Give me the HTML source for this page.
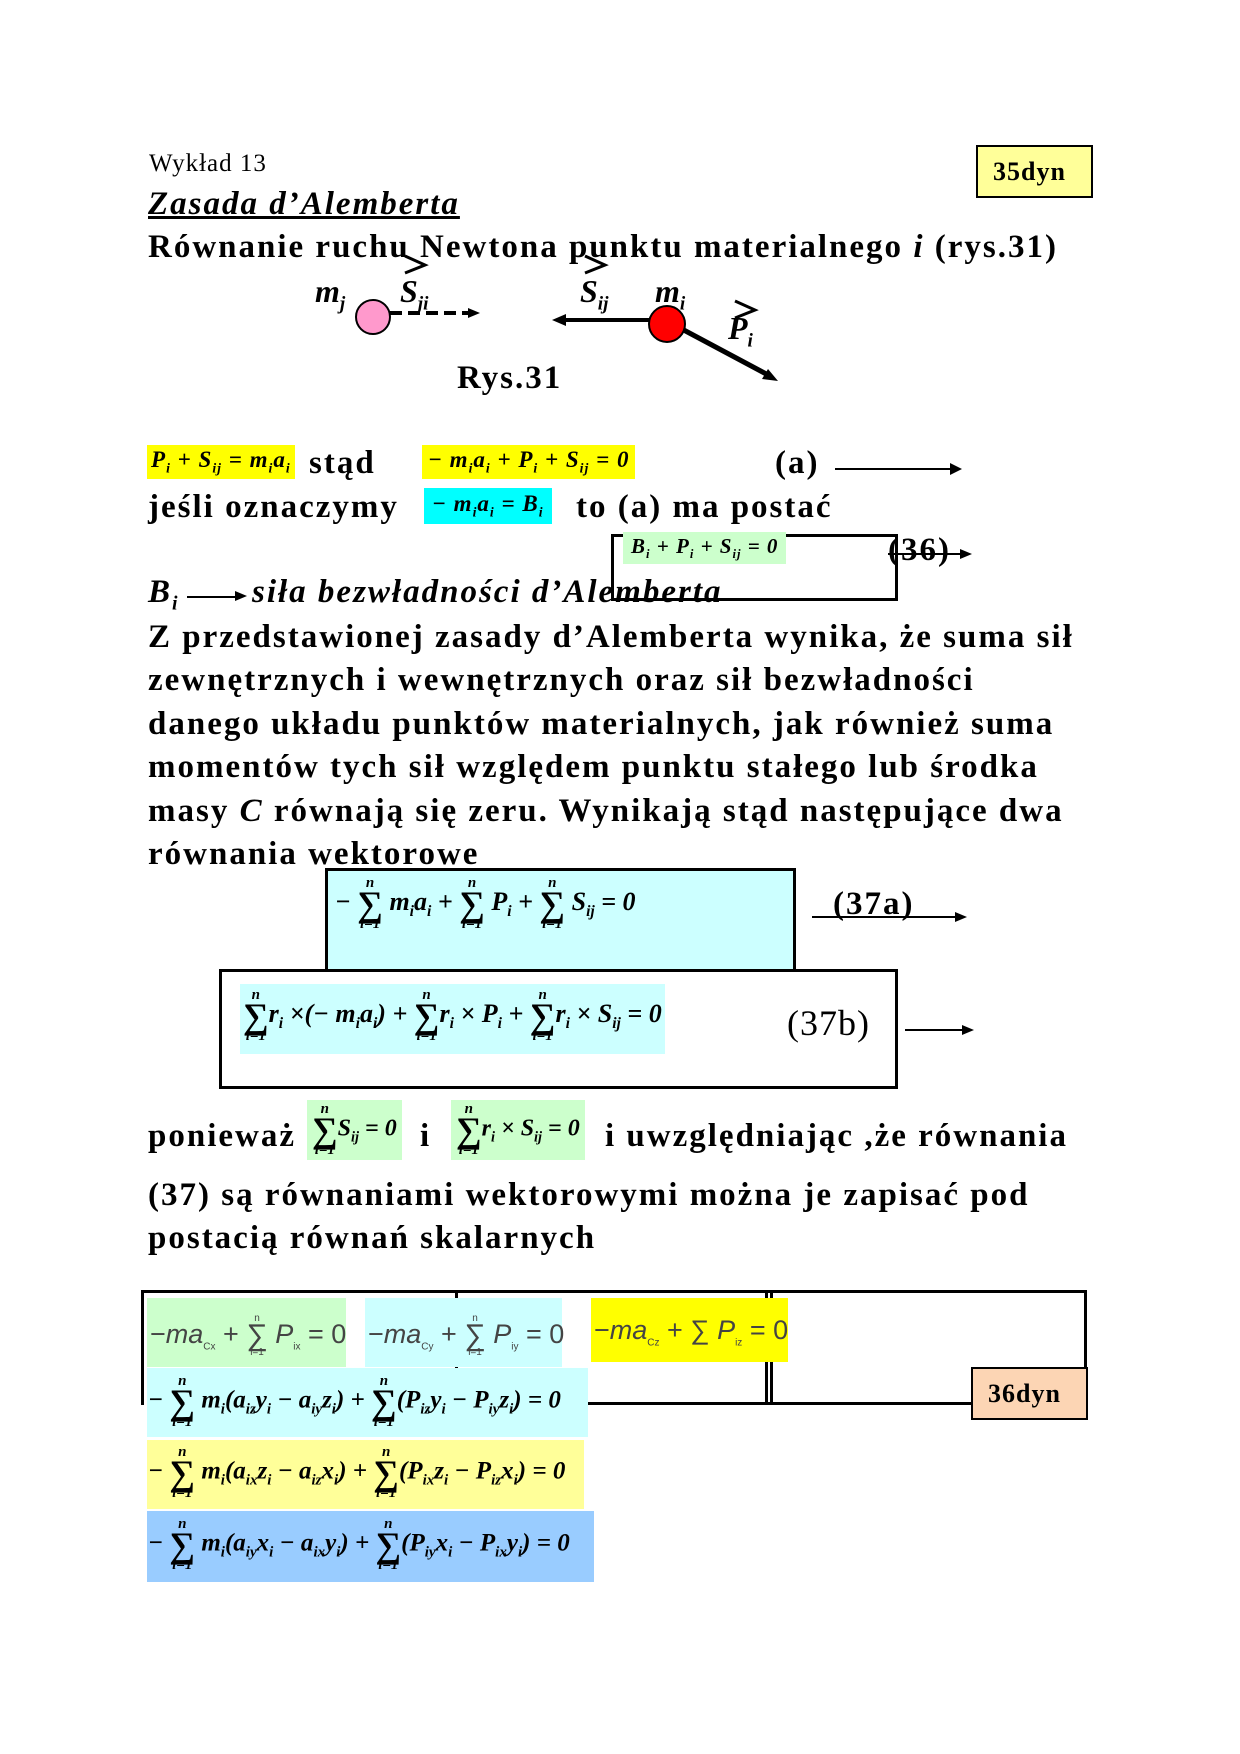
<!DOCTYPE html>
<html><head><meta charset="utf-8"><style>
body{margin:0;width:1240px;height:1754px;background:#fff;position:relative;overflow:hidden;font-family:"Liberation Serif",serif;}
.a{position:absolute;white-space:nowrap;}
.b{font-weight:bold;font-size:33px;letter-spacing:2px;}
.eq{font-weight:bold;font-style:italic;font-family:"Liberation Serif",serif;}
.s{display:inline-block;position:relative;text-align:center;vertical-align:middle;line-height:1;}
.s .t{display:block;font-size:15px;}
.s .m{display:block;font-size:36px;line-height:26px;font-style:normal;}
.s .u{display:block;font-size:15px;}
sub{font-size:60%;}
.box{position:absolute;border:3px solid #000;box-sizing:border-box;}
.ss{font-family:"Liberation Sans",sans-serif;color:#444;font-size:27px;}
.ss sub{font-size:10px;}
.ss .s .t,.ss .s .u{font-size:10px;}
.ss .s .m{font-size:30px;line-height:24px;}
</style></head><body>
<div class="a" style="left:149px;top:150px;font-size:25px;letter-spacing:1px;">Wykład 13</div>
<div class="box" style="left:976px;top:145px;width:117px;height:53px;background:#ffff99;border-width:2px;"></div>
<div class="a" style="left:993px;top:157px;font-size:26px;font-weight:bold;letter-spacing:1px;">35dyn</div>
<div class="a b" style="left:148px;top:186px;font-style:italic;text-decoration:underline;">Zasada d’Alemberta</div>
<div class="a b" style="left:148px;top:229px;">Równanie ruchu Newtona punktu materialnego <i>i</i> (rys.31)</div>

<svg class="a" style="left:0;top:0" width="1240" height="420">
<line x1="390" y1="313" x2="470" y2="313" stroke="#000" stroke-width="4" stroke-dasharray="12,6"/>
<polygon points="480,313 468,308 468,318"/>
<circle cx="373" cy="317" r="17" fill="#ff99cc" stroke="#000" stroke-width="2"/>
<line x1="565" y1="320" x2="655" y2="320" stroke="#000" stroke-width="4"/>
<polygon points="552,320 566,314 566,326"/>
<line x1="680" y1="328" x2="770" y2="376" stroke="#000" stroke-width="5"/>
<polygon points="778,381 762,379 768,369"/>
<circle cx="667" cy="324" r="18" fill="#ff0000" stroke="#000" stroke-width="2"/>
<polyline points="405,256 425,265 405,273" fill="none" stroke="#000" stroke-width="3"/>
<polyline points="585,256 605,265 585,273" fill="none" stroke="#000" stroke-width="3"/>
<polyline points="735,301 755,310 735,318" fill="none" stroke="#000" stroke-width="3"/>
</svg>
<div class="a eq" style="left:315px;top:273px;font-size:32px;">m<sub>j</sub></div>
<div class="a eq" style="left:400px;top:273px;font-size:32px;">S<sub>ji</sub></div>
<div class="a eq" style="left:580px;top:273px;font-size:32px;">S<sub>ij</sub></div>
<div class="a eq" style="left:655px;top:273px;font-size:32px;">m<sub>i</sub></div>
<div class="a eq" style="left:728px;top:310px;font-size:32px;">P<sub>i</sub></div>
<div class="a b" style="left:457px;top:360px;">Rys.31</div>

<div class="a eq" style="left:147px;top:445px;font-size:23px;background:#ffff00;padding:2px 4px;letter-spacing:1px;">P<sub>i</sub> + S<sub>ij</sub> = m<sub>i</sub>a<sub>i</sub></div>
<div class="a b" style="left:309px;top:445px;">stąd</div>
<div class="a eq" style="left:422px;top:445px;font-size:23px;background:#ffff00;padding:2px 6px;letter-spacing:1px;">− m<sub>i</sub>a<sub>i</sub> + P<sub>i</sub> + S<sub>ij</sub> = 0</div>
<div class="a b" style="left:775px;top:445px;">(a)</div>
<div class="a" style="left:835px;top:468px;width:125px;border-top:2px solid #000;"></div>
<div class="a" style="left:950px;top:463px;border-left:12px solid #000;border-top:6px solid transparent;border-bottom:6px solid transparent;"></div>

<div class="a b" style="left:148px;top:489px;">jeśli oznaczymy</div>
<div class="a eq" style="left:424px;top:488px;font-size:23px;background:#00ffff;padding:3px 8px;letter-spacing:1px;">− m<sub>i</sub>a<sub>i</sub> = B<sub>i</sub></div>
<div class="a b" style="left:576px;top:489px;">to (a) ma postać</div>

<div class="box" style="left:611px;top:534px;width:287px;height:67px;"></div>
<div class="a eq" style="left:623px;top:532px;font-size:21px;background:#ccffcc;padding:2px 8px;letter-spacing:1px;">B<sub>i</sub> + P<sub>i</sub> + S<sub>ij</sub> = 0</div>
<div class="a b" style="left:888px;top:532px;">(36)</div>
<div class="a" style="left:888px;top:553px;width:75px;border-top:2px solid #000;"></div>
<div class="a" style="left:960px;top:549px;border-left:12px solid #000;border-top:5px solid transparent;border-bottom:5px solid transparent;"></div>

<div class="a b" style="left:148px;top:574px;"><i>B<sub>i</sub></i></div>
<div class="a" style="left:187px;top:596px;width:50px;border-top:2px solid #000;"></div>
<div class="a" style="left:235px;top:591px;border-left:12px solid #000;border-top:5px solid transparent;border-bottom:5px solid transparent;"></div>
<div class="a b" style="left:252px;top:574px;font-style:italic;">siła bezwładności d’Alemberta</div>

<div class="a b" style="left:148px;top:616px;line-height:43.4px;">Z przedstawionej zasady d’Alemberta wynika, że suma sił<br>zewnętrznych i wewnętrznych oraz sił bezwładności<br>danego układu punktów materialnych, jak również suma<br>momentów tych sił względem punktu stałego lub środka<br>masy <i>C</i> równają się zeru. Wynikają stąd następujące dwa<br>równania wektorowe</div>

<div class="box" style="left:325px;top:868px;width:471px;height:104px;background:#ccffff;"></div>
<div class="a eq" style="left:335px;top:876px;font-size:26px;">− <span class="s"><span class="t">n</span><span class="m">∑</span><span class="u">i=1</span></span> m<sub>i</sub>a<sub>i</sub> + <span class="s"><span class="t">n</span><span class="m">∑</span><span class="u">i=1</span></span> P<sub>i</sub> + <span class="s"><span class="t">n</span><span class="m">∑</span><span class="u">i=1</span></span> S<sub>ij</sub> = 0</div>
<div class="a b" style="left:833px;top:886px;">(37a)</div>
<div class="a" style="left:812px;top:916px;width:145px;border-top:2px solid #000;"></div>
<div class="a" style="left:955px;top:912px;border-left:12px solid #000;border-top:5px solid transparent;border-bottom:5px solid transparent;"></div>

<div class="box" style="left:219px;top:969px;width:679px;height:120px;"></div>
<div class="a" style="left:240px;top:984px;width:425px;height:70px;background:#ccffff;"></div>
<div class="a eq" style="left:243px;top:988px;font-size:26px;"><span class="s"><span class="t">n</span><span class="m">∑</span><span class="u">i=1</span></span>r<sub>i</sub> ×(− m<sub>i</sub>a<sub>i</sub>) + <span class="s"><span class="t">n</span><span class="m">∑</span><span class="u">i=1</span></span>r<sub>i</sub> × P<sub>i</sub> + <span class="s"><span class="t">n</span><span class="m">∑</span><span class="u">i=1</span></span>r<sub>i</sub> × S<sub>ij</sub> = 0</div>
<div class="a" style="left:787px;top:1002px;font-size:36px;letter-spacing:1px;">(37b)</div>
<div class="a" style="left:905px;top:1029px;width:60px;border-top:2px solid #000;"></div>
<div class="a" style="left:962px;top:1025px;border-left:12px solid #000;border-top:5px solid transparent;border-bottom:5px solid transparent;"></div>

<div class="a b" style="left:148px;top:1118px;">ponieważ</div>
<div class="a eq" style="left:307px;top:1100px;font-size:24px;background:#ccffcc;padding:2px 5px;"><span class="s"><span class="t">n</span><span class="m">∑</span><span class="u">i=1</span></span>S<sub>ij</sub> = 0</div>
<div class="a b" style="left:420px;top:1118px;">i</div>
<div class="a eq" style="left:451px;top:1100px;font-size:24px;background:#ccffcc;padding:2px 5px;"><span class="s"><span class="t">n</span><span class="m">∑</span><span class="u">i=1</span></span>r<sub>i</sub> × S<sub>ij</sub> = 0</div>
<div class="a b" style="left:605px;top:1118px;">i uwzględniając ,że równania</div>
<div class="a b" style="left:148px;top:1174px;line-height:43px;">(37) są równaniami wektorowymi można je zapisać pod<br>postacią równań skalarnych</div>

<div class="a" style="left:141px;top:1290px;width:946px;border-top:3px solid #000;"></div>
<div class="a" style="left:141px;top:1290px;height:115px;border-left:3px solid #000;"></div>
<div class="a" style="left:1084px;top:1290px;height:80px;border-left:3px solid #000;"></div>
<div class="a" style="left:455px;top:1290px;height:113px;border-left:3px solid #000;"></div>
<div class="a" style="left:765px;top:1290px;height:113px;border-left:3px solid #000;"></div>
<div class="a" style="left:770px;top:1290px;height:113px;border-left:3px solid #000;"></div>
<div class="a" style="left:580px;top:1402px;width:190px;border-top:3px solid #000;"></div>
<div class="a" style="left:770px;top:1402px;width:205px;border-top:3px solid #000;"></div>
<div class="box" style="left:971px;top:1367px;width:117px;height:53px;background:#fcd5b4;border-width:2px;"></div>
<div class="a" style="left:988px;top:1379px;font-size:26px;font-weight:bold;letter-spacing:1px;">36dyn</div>

<div class="a" style="left:147px;top:1298px;width:199px;height:69px;background:#ccffcc;"></div>
<div class="a ss" style="left:150px;top:1314px;">−<i>ma</i><sub>Cx</sub> + <span class="s"><span class="t">n</span><span class="m">∑</span><span class="u">i=1</span></span> <i>P</i><sub>ix</sub> = 0</div>
<div class="a" style="left:365px;top:1298px;width:197px;height:69px;background:#ccffff;"></div>
<div class="a ss" style="left:368px;top:1314px;">−<i>ma</i><sub>Cy</sub> + <span class="s"><span class="t">n</span><span class="m">∑</span><span class="u">i=1</span></span> <i>P</i><sub>iy</sub> = 0</div>
<div class="a" style="left:591px;top:1298px;width:197px;height:64px;background:#ffff00;"></div>
<div class="a ss" style="left:594px;top:1315px;">−<i>ma</i><sub>Cz</sub> + ∑ <i>P</i><sub>iz</sub> = 0</div>

<div class="a" style="left:147px;top:1368px;width:441px;height:69px;background:#ccffff;"></div>
<div class="a eq" style="left:148px;top:1374px;font-size:25px;">− <span class="s"><span class="t">n</span><span class="m">∑</span><span class="u">i=1</span></span> m<sub>i</sub>(a<sub>iz</sub>y<sub>i</sub> − a<sub>iy</sub>z<sub>i</sub>) + <span class="s"><span class="t">n</span><span class="m">∑</span><span class="u">i=1</span></span>(P<sub>iz</sub>y<sub>i</sub> − P<sub>iy</sub>z<sub>i</sub>) = 0</div>
<div class="a" style="left:147px;top:1440px;width:437px;height:69px;background:#ffff99;"></div>
<div class="a eq" style="left:148px;top:1445px;font-size:25px;">− <span class="s"><span class="t">n</span><span class="m">∑</span><span class="u">i=1</span></span> m<sub>i</sub>(a<sub>ix</sub>z<sub>i</sub> − a<sub>iz</sub>x<sub>i</sub>) + <span class="s"><span class="t">n</span><span class="m">∑</span><span class="u">i=1</span></span>(P<sub>ix</sub>z<sub>i</sub> − P<sub>iz</sub>x<sub>i</sub>) = 0</div>
<div class="a" style="left:147px;top:1511px;width:447px;height:71px;background:#99ccff;"></div>
<div class="a eq" style="left:148px;top:1517px;font-size:25px;">− <span class="s"><span class="t">n</span><span class="m">∑</span><span class="u">i=1</span></span> m<sub>i</sub>(a<sub>iy</sub>x<sub>i</sub> − a<sub>ix</sub>y<sub>i</sub>) + <span class="s"><span class="t">n</span><span class="m">∑</span><span class="u">i=1</span></span>(P<sub>iy</sub>x<sub>i</sub> − P<sub>ix</sub>y<sub>i</sub>) = 0</div>
</body></html>
